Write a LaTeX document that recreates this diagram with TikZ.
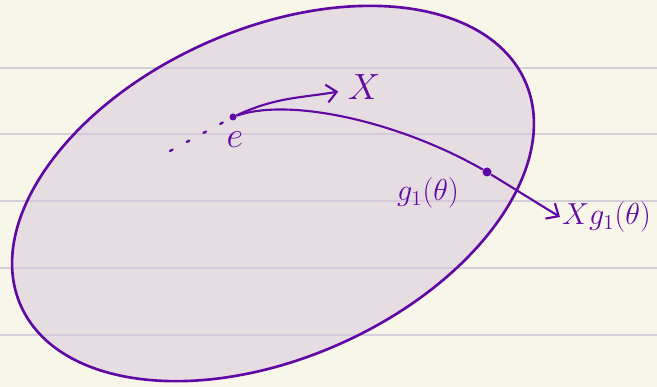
\documentclass[tikz,border=0pt]{standalone}
\usepackage{tikz}
\usetikzlibrary{arrows.meta}
\definecolor{ink}{RGB}{96, 8, 164}
\definecolor{paper}{RGB}{248, 246, 233}
\definecolor{ruling}{RGB}{212, 208, 218}
\definecolor{blobfill}{RGB}{214, 198, 221}

\begin{document}
\begin{tikzpicture}[x=0.2mm, y=0.2mm,
  rule/.style={draw=ruling, line width=1pt},
  blob/.style={draw=ink, line width=1.5pt, fill=blobfill, fill opacity=0.5},
  pt/.style={circle, fill=ink, inner sep=0pt, minimum size=1.4mm},
  lbl/.style={text=ink, font=\LARGE, inner sep=1pt},
  arr/.style={draw=ink, line width=1.2pt, -{Straight Barb[length=2mm, width=3.6mm]}},
  orbit/.style={draw=ink, line width=1.2pt},
  trail/.style={draw=ink, line width=1.3pt, dash pattern=on 0.6mm off 3.2mm, line cap=round}
]
\useasboundingbox (0,0) rectangle (657,387);
\fill[paper] (0,0) rectangle (657,387);
\foreach \y in {52,119,186,253,319} \draw[rule] (0,\y) -- (657,\y);
\draw[blob, rotate around={24:(273,193.5)}] (273,193.5) ellipse [x radius=276, y radius=164.6];

\node[pt] (e) at (233,270) {};
\node[lbl, font=\huge] (elbl) at (235,247) {$e$};
\coordinate (tail) at (170,236);
\node[lbl, font=\huge] (x) at (364,300) {$X$};
\node[pt, minimum size=1.8mm] (g) at (487,215) {};
\node[lbl] (glbl) at (428,194) {$g_1(\theta)$};
\node[lbl, anchor=west] (xg) at (560,170) {$Xg_1(\theta)$};

\draw[trail] (tail) -- (e);
\draw[arr, shorten >=1.5mm] (e) to[out=25, in=190] (x);
\draw[orbit] (e) .. controls (290,290) and (400,265) .. (g);
\draw[arr] (g) -- (xg.west);
\end{tikzpicture}
\end{document}
